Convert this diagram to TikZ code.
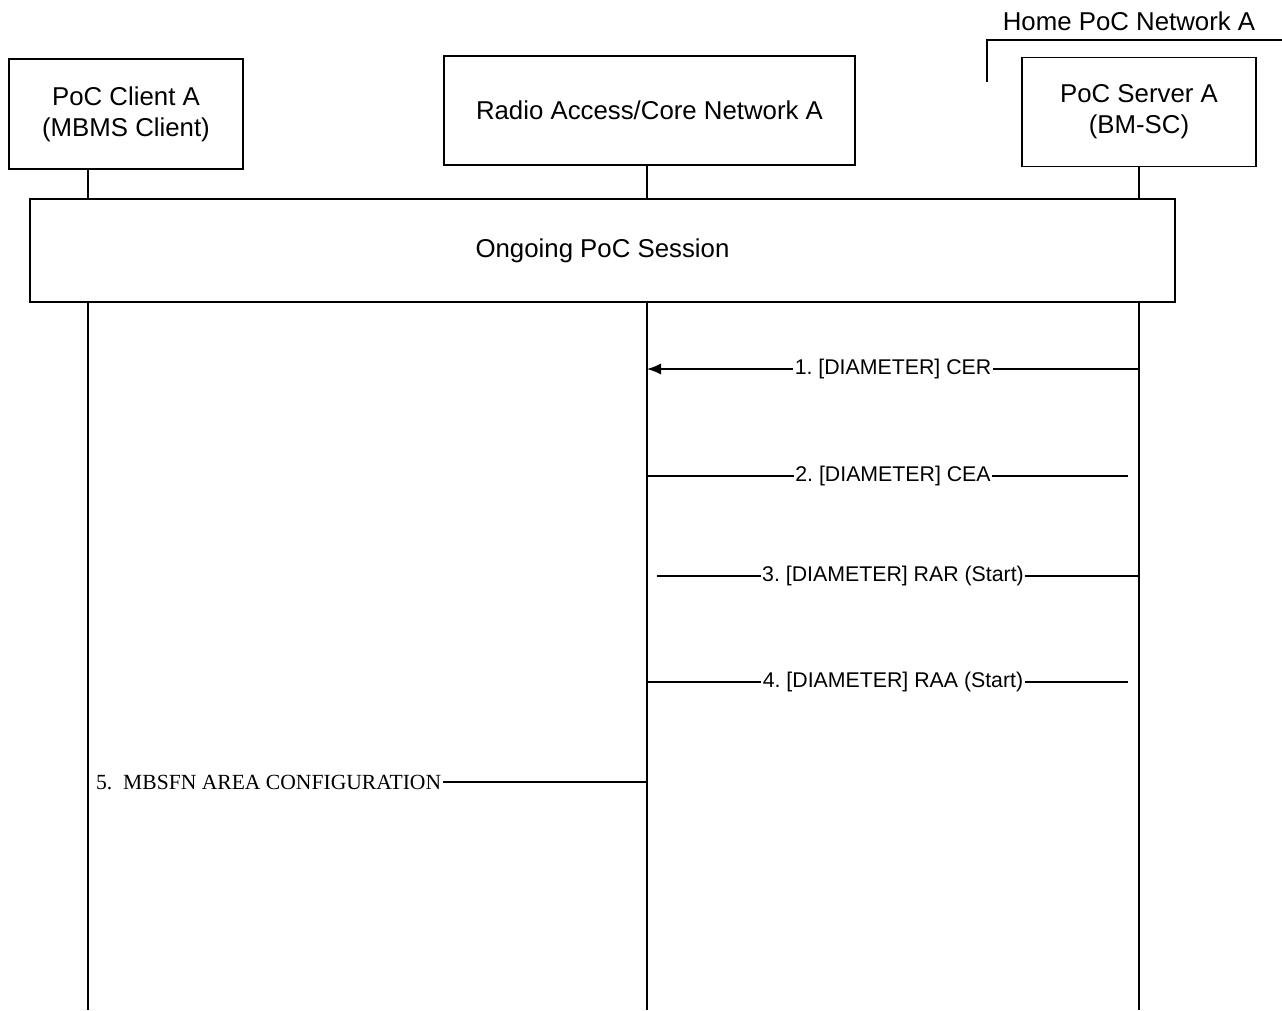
\documentclass[tikz,border=0pt]{standalone}
\usepackage{fontspec}
\setmainfont{Liberation Sans}
\newfontfamily\serifmsg{Liberation Serif}
\usetikzlibrary{arrows.meta,positioning}
\frenchspacing

\begin{document}
\begin{tikzpicture}[x=1pt, y=-1pt, line width=1.3pt,
    entity/.style = {shape=rectangle, draw, align=center, fill=white, font=\fontsize{25.8}{31}\selectfont},
    msg/.style = {fill=white, inner sep=1.5pt, font=\fontsize{21.3}{25}\selectfont}]
  \useasboundingbox (0,0) rectangle (1282,1010);
  % entities
  \node[entity, minimum width=234pt, minimum height=110pt] (clientA) at (126,114) {PoC Client A\\ (MBMS Client)};
  \node[entity, minimum width=411pt, minimum height=109pt] (ran) at (649.5,110.5) {Radio Access/Core Network A};
  \node[entity, minimum width=234pt, minimum height=109pt] (serverA) at (1139,112) {PoC Server A\\ (BM-SC)};
  % home network
  \node[font=\fontsize{25.8}{31}\selectfont] (homeA) at (1129,21) {Home PoC Network A};
  \draw (987,82) |- (1282,40);
  % lifelines
  \coordinate (clientEnd) at (88,1010);
  \coordinate (ranEnd) at (647,1010);
  \draw (clientEnd |- clientA.south) -- (clientEnd);
  \draw (ranEnd |- ran.south) -- (ranEnd);
  \draw (serverA.south) -- (serverA.south |- ranEnd);
  \node[entity, minimum width=1145pt, minimum height=103pt] (session) at (602.5,250.5) {Ongoing PoC Session};
  % messages
  \coordinate (m1) at (0,369);
  \coordinate (m2) at (0,476);
  \coordinate (m3) at (0,576);
  \coordinate (m4) at (0,682);
  \coordinate (m5) at (94,782);
  \draw[-{Latex[length=14pt,width=11pt]}] (serverA.south |- m1) -- node[msg] {1. [DIAMETER] CER} (ranEnd |- m1);
  \draw[shorten >=11pt] (ranEnd |- m2) -- node[msg] {2. [DIAMETER] CEA} (serverA.south |- m2);
  \draw[shorten >=10pt] (serverA.south |- m3) -- node[msg] {3. [DIAMETER] RAR (Start)} (ranEnd |- m3);
  \draw[shorten >=11pt] (ranEnd |- m4) -- node[msg] {4. [DIAMETER] RAA (Start)} (serverA.south |- m4);
  \node[msg, anchor=west, font=\serifmsg\fontsize{21.6}{25}\selectfont] (lbl5) at (m5) {5.\ \ MBSFN AREA CONFIGURATION};
  \draw (lbl5.east) -- (lbl5.east -| ranEnd);
\end{tikzpicture}
\end{document}
